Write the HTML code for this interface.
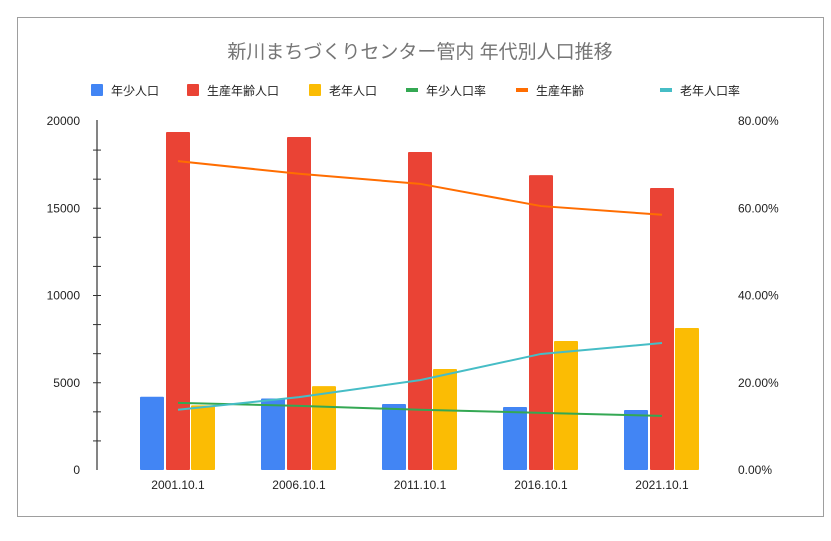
<!DOCTYPE html>
<html><head><meta charset="utf-8"><style>
body{margin:0;background:#fff;font-family:"Liberation Sans","Noto Sans CJK JP",sans-serif}
</style></head><body>
<svg id="chart" width="831" height="536" xmlns="http://www.w3.org/2000/svg" style="font-family:'Liberation Sans','Noto Sans CJK JP',sans-serif">
<rect x="17.5" y="17.5" width="806" height="499" fill="#fff" stroke="#9e9e9e"/>
<text x="420" y="58" text-anchor="middle" font-size="19" fill="#757575">新川まちづくりセンター管内 年代別人口推移</text>
<g id="legend" font-size="12" fill="#222"></g>
<g id="axes"></g>
<g id="bars"></g>
<g id="lines"></g>
</svg>
<script>
const categories=["2001.10.1","2006.10.1","2011.10.1","2016.10.1","2021.10.1"];
const youth=[4200,4100,3780,3610,3440];
const working=[19370,19080,18220,16900,16160];
const elderly=[3700,4810,5790,7390,8140];
const youthRate=[15.4,14.7,13.8,13.1,12.4];
const workingRate=[70.8,67.9,65.6,60.5,58.5];
const elderlyRate=[13.8,16.7,20.6,26.6,29.1];
const leftTicks=[0,5000,10000,15000,20000];
const rightTicks=["0.00%","20.00%","40.00%","60.00%","80.00%"];
const NS="http://www.w3.org/2000/svg";
function mk(tag,attrs,parent,text){const e=document.createElementNS(NS,tag);for(const k in attrs)e.setAttribute(k,attrs[k]);if(text!==undefined)e.textContent=text;parent.appendChild(e);return e;}
const y0=470,yTop=121;
const yL=v=>y0-(v/20000)*(y0-yTop);
const yR=v=>y0-(v/80)*(y0-yTop);
const xC=i=>178+i*121;
const axes=document.getElementById('axes');
const ax=mk('line',{x1:97,y1:120,x2:97,y2:470,stroke:'#333','stroke-width':1.2},axes);

for(let k=1;k<12;k++){const t=mk('line',{x1:93,x2:101,y1:yL(k*20000/12),y2:yL(k*20000/12),stroke:'#333'},axes);
}
leftTicks.forEach(v=>{const t=mk('text',{x:80,y:yL(v)+4,'text-anchor':'end','font-size':12,fill:'#222'},axes,String(v));
});
rightTicks.forEach((s,i)=>{const t=mk('text',{x:738,y:yR(i*20)+4,'font-size':12,fill:'#222'},axes,s);
});
categories.forEach((c,i)=>{const t=mk('text',{x:xC(i),y:489,'text-anchor':'middle','font-size':12,fill:'#222'},axes,c);
});
const bars=document.getElementById('bars');
const series=[[youth,'#4285f4',-38,'youth'],[working,'#ea4335',-12,'working'],[elderly,'#fbbc04',13,'elderly']];
series.forEach(([vals,col,off,nm])=>vals.forEach((v,i)=>{const r=mk('rect',{x:xC(i)+off,y:yL(v),width:24,height:y0-yL(v),fill:col,rx:1},bars);
}));
const lines=document.getElementById('lines');
[[youthRate,'#34a853','youth-rate'],[workingRate,'#ff6d01','working-rate'],[elderlyRate,'#46bdc6','elderly-rate']].forEach(([vals,col,nm])=>{
const p=mk('polyline',{points:vals.map((v,i)=>xC(i)+','+yR(v)).join(' '),fill:'none',stroke:col,'stroke-width':2},lines);
});
const legend=document.getElementById('legend');
const items=[['年少人口','#4285f4','box',91],['生産年齢人口','#ea4335','box',187],['老年人口','#fbbc04','box',309],['年少人口率','#34a853','line',406],['生産年齢','#ff6d01','line',516],['老年人口率','#46bdc6','line',660]];
items.forEach(([lab,col,kind,x])=>{const g=mk('g',{},legend);

if(kind==='box')mk('rect',{x:x,y:84,width:12,height:12,fill:col,rx:1},g);
else mk('rect',{x:x,y:88,width:12,height:4,fill:col},g);
mk('text',{x:x+20,y:95,'font-size':12,fill:'#222'},g,lab);});
</script>
</body></html>
